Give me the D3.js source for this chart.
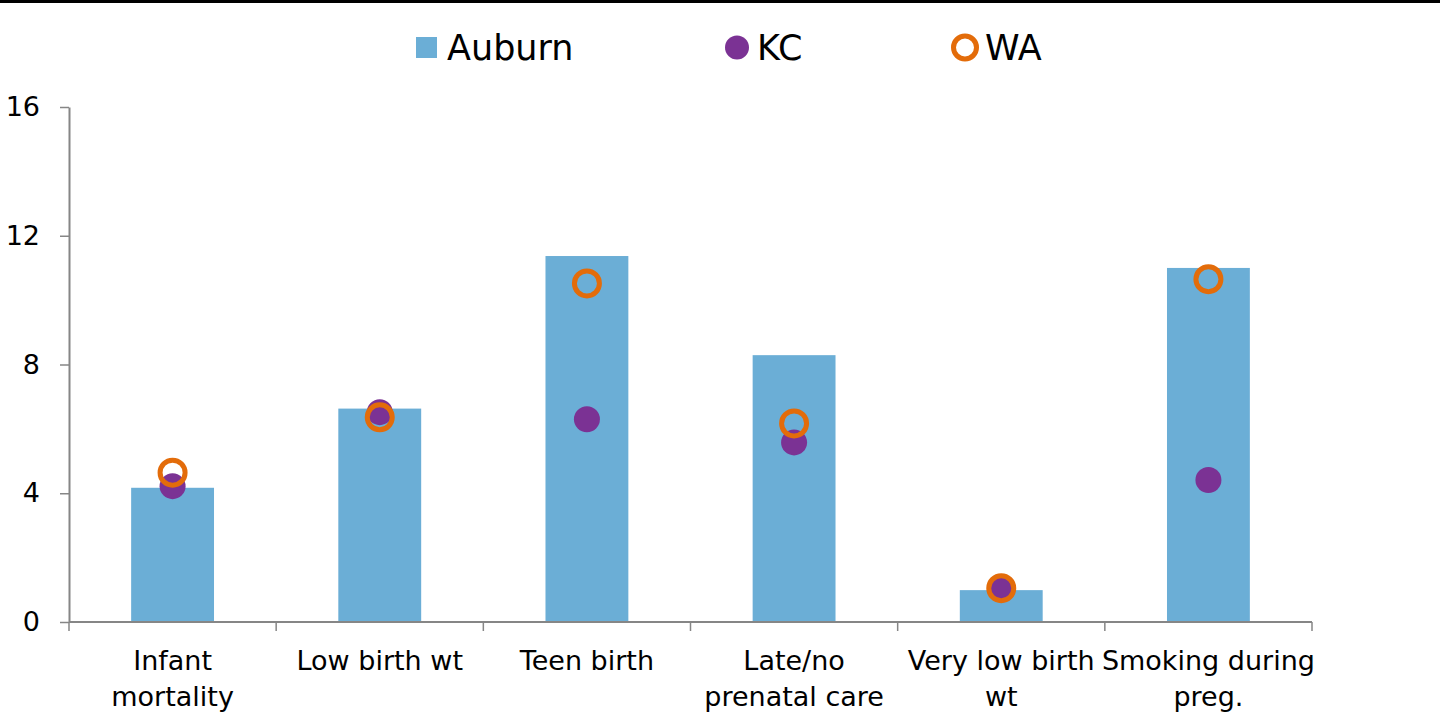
<!DOCTYPE html>
<html><head><meta charset="utf-8">
<script src="https://cdn.jsdelivr.net/npm/d3@7"></script>
<style>
html,body{margin:0;padding:0;background:#fff;}
svg{display:block;font-family:"DejaVu Sans",sans-serif;}
</style></head>
<body><svg id="c" width="1440" height="719"></svg>
<script>
const categories = [["Infant","mortality"],["Low birth wt"],["Teen birth"],["Late/no","prenatal care"],["Very low birth","wt"],["Smoking during","preg."]];
const auburn = [4.17, 6.63, 11.37, 8.29, 0.99, 11.0];
const kc = [4.22, 6.52, 6.30, 5.58, 1.03, 4.41];
const wa = [4.64, 6.36, 10.52, 6.17, 1.05, 10.65];
const yTicks = [0, 4, 8, 12, 16];
const seriesNames = ["Auburn","KC","WA"];

(function(){
const colBar = "#6baed6", colKC = "#7b3294", colWA = "#e36c0a", axisCol = "#868686";
const svg = d3.select("#c");
const mLeft = 69, mRight = 1312, mTop = 107, mBottom = 622;

svg.append("rect").attr("x",0).attr("y",0).attr("width",1440).attr("height",3).attr("fill","#000");

const keys = categories.map((d,i)=>i);
const x = d3.scaleBand().domain(keys).range([mLeft,mRight]).paddingInner(0.6).paddingOuter(0.3);
const y = d3.scaleLinear().domain([0,16]).range([mBottom,mTop]);

// bars
svg.append("g").selectAll("rect").data(auburn).join("rect")
  .attr("x",(d,i)=>x(i)).attr("width",x.bandwidth())
  .attr("y",d=>y(d)).attr("height",d=>y(0)-y(d)).attr("fill",colBar);

// y axis
const ya = svg.append("g").attr("transform",`translate(${mLeft},0)`)
  .call(d3.axisLeft(y).tickValues(yTicks).tickSize(9).tickPadding(20).tickSizeOuter(0));
ya.select(".domain").attr("stroke",axisCol).attr("stroke-width",2);
ya.selectAll(".tick line").attr("stroke",axisCol).attr("stroke-width",1.5);
ya.selectAll(".tick text").attr("font-size",27).attr("fill","#000").attr("font-family","DejaVu Sans");

// x axis
svg.append("line").attr("x1",mLeft).attr("x2",mRight).attr("y1",y(0)).attr("y2",y(0))
  .attr("stroke",axisCol).attr("stroke-width",2);
const step = x.step();
const bounds = d3.range(categories.length+1).map(i=> i<categories.length ? x(i)-x.paddingOuter()*step : x(categories.length-1)+x.bandwidth()+x.paddingOuter()*step);
svg.append("g").selectAll("line").data(bounds).join("line")
  .attr("x1",d=>d).attr("x2",d=>d).attr("y1",y(0)).attr("y2",y(0)+9)
  .attr("stroke",axisCol).attr("stroke-width",1.5);

// category labels
const lab = svg.append("g").selectAll("text").data(categories).join("text")
  .attr("text-anchor","middle").attr("font-size",27).attr("fill","#000")
  .attr("transform",(d,i)=>`translate(${x(i)+x.bandwidth()/2},670)`);
lab.selectAll("tspan").data(d=>d).join("tspan").attr("x",0).attr("y",(d,j)=>j*36).text(d=>d);

// KC points
svg.append("g").selectAll("circle").data(kc).join("circle")
  .attr("cx",(d,i)=>x(i)+x.bandwidth()/2).attr("cy",d=>y(d)).attr("r",13).attr("fill",colKC);
// WA points
svg.append("g").selectAll("circle").data(wa).join("circle")
  .attr("cx",(d,i)=>x(i)+x.bandwidth()/2).attr("cy",d=>y(d)).attr("r",12.5)
  .attr("fill","none").attr("stroke",colWA).attr("stroke-width",5);

// legend
const lg = svg.append("g");
lg.append("rect").attr("x",416).attr("y",37).attr("width",21).attr("height",21).attr("fill",colBar);
lg.append("text").attr("x",447).attr("y",60).attr("font-size",35).text(seriesNames[0]);
lg.append("circle").attr("cx",737).attr("cy",47.5).attr("r",12).attr("fill",colKC);
lg.append("text").attr("x",757).attr("y",60).attr("font-size",35).text(seriesNames[1]);
lg.append("circle").attr("cx",965).attr("cy",47.5).attr("r",11.5).attr("fill","none").attr("stroke",colWA).attr("stroke-width",5);
lg.append("text").attr("x",985).attr("y",60).attr("font-size",35).text(seriesNames[2]);
})();
</script></body></html>
